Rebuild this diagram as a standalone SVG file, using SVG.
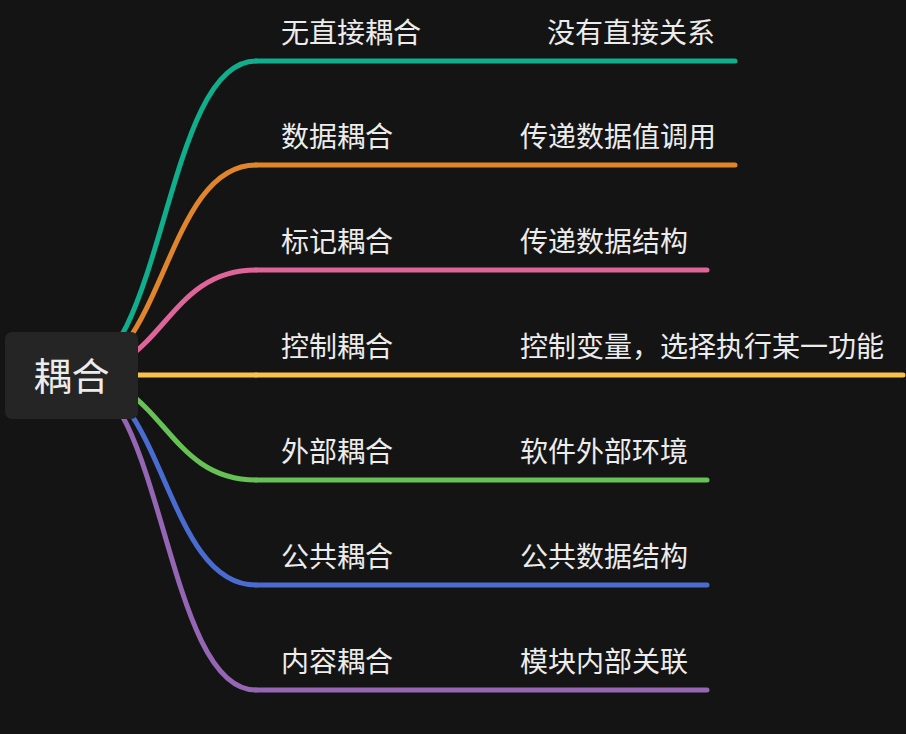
<svg xmlns="http://www.w3.org/2000/svg" width="906" height="734" viewBox="0 0 906 734">
<style>
.t{font-family:"Noto Sans CJK SC","Microsoft YaHei",sans-serif;fill:#ececec;font-size:28px}
.r{font-family:"Noto Sans CJK SC","Microsoft YaHei",sans-serif;fill:#ececec;font-size:38px}
.l{fill:none;stroke-width:5;stroke-linecap:round}
.c1{stroke:#0fae8c}.c2{stroke:#e0852c}.c3{stroke:#df6499}.c4{stroke:#f9c24c}.c5{stroke:#67c256}.c6{stroke:#4a6bd0}.c7{stroke:#9466b4}
</style>
<rect width="906" height="734" fill="#141414"/>
<g id="connectors">
<path class="l c1" d="M72,375 C164,375 164,61 256,61"/>
<path class="l c2" d="M72,375 C164,375 164,165 256,165"/>
<path class="l c3" d="M72,375 C164,375 164,270 256,270"/>
<path class="l c4" d="M72,375 L256,375"/>
<path class="l c5" d="M72,375 C164,375 164,480 256,480"/>
<path class="l c6" d="M72,375 C164,375 164,585 256,585"/>
<path class="l c7" d="M72,375 C164,375 164,690 256,690"/>
<path class="l c1" d="M256,61 L735,61"/>
<path class="l c2" d="M256,165 L735,165"/>
<path class="l c3" d="M256,270 L707,270"/>
<path class="l c4" d="M256,375 L903,375"/>
<path class="l c5" d="M256,480 L707,480"/>
<path class="l c6" d="M256,585 L707,585"/>
<path class="l c7" d="M256,690 L707,690"/>
</g>
<g id="root">
<rect x="5" y="332" width="133" height="87" rx="7" fill="#252525"/>
<text class="r" x="71.5" y="390" text-anchor="middle">耦合</text>
</g>
<g id="n1"><text class="t" x="281" y="43">无直接耦合</text></g>
<g id="n1a"><text class="t" x="547" y="43">没有直接关系</text></g>
<g id="n2"><text class="t" x="281" y="147">数据耦合</text></g>
<g id="n2a"><text class="t" x="520" y="147">传递数据值调用</text></g>
<g id="n3"><text class="t" x="281" y="252">标记耦合</text></g>
<g id="n3a"><text class="t" x="520" y="252">传递数据结构</text></g>
<g id="n4"><text class="t" x="281" y="357">控制耦合</text></g>
<g id="n4a"><text class="t" x="520" y="357">控制变量，选择执行某一功能</text></g>
<g id="n5"><text class="t" x="281" y="462">外部耦合</text></g>
<g id="n5a"><text class="t" x="520" y="462">软件外部环境</text></g>
<g id="n6"><text class="t" x="281" y="567">公共耦合</text></g>
<g id="n6a"><text class="t" x="520" y="567">公共数据结构</text></g>
<g id="n7"><text class="t" x="281" y="672">内容耦合</text></g>
<g id="n7a"><text class="t" x="520" y="672">模块内部关联</text></g>
</svg>
